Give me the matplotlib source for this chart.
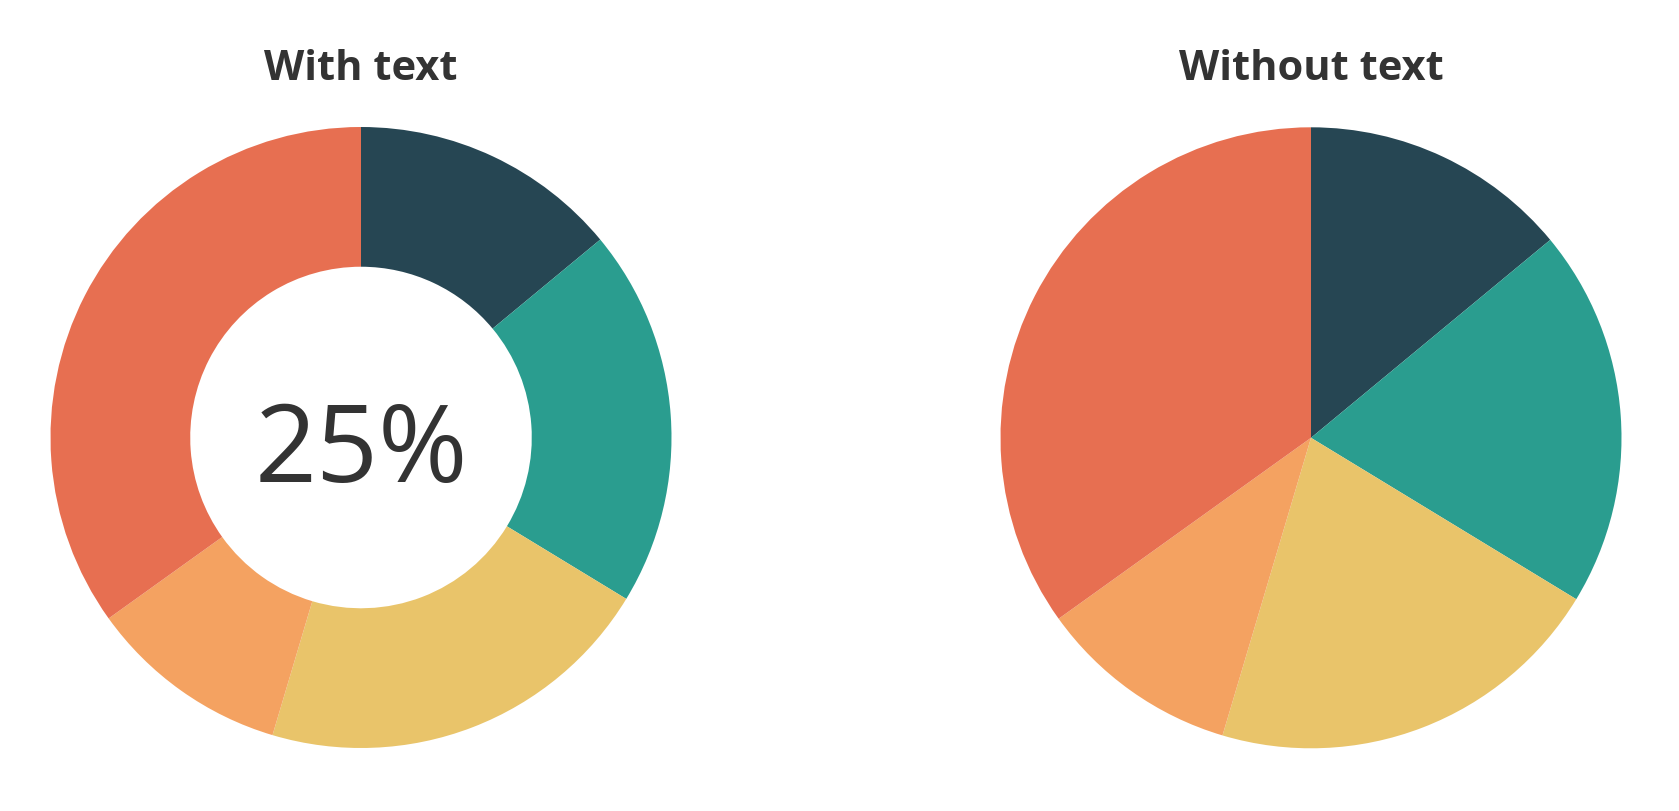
import matplotlib
matplotlib.use("Agg")
import matplotlib.pyplot as plt

# slice data (clockwise from 12 o'clock)
categories = ["A", "B", "C", "D", "E"]
values = [14, 19.7, 20.9, 10.5, 34.9]
colors = ["#264653", "#2a9d8f", "#e9c46a", "#f4a261", "#e76f51"]
titles = ["With text", "Without text"]
center_label = "25%"

W, H = 1679, 812
R = 310.5  # pie radius in pixels
centers = [(361, 438.5), (1311, 438.8)]

plt.rcParams["font.family"] = ["Open Sans", "DejaVu Sans"]
fig = plt.figure(figsize=(W / 100, H / 100), dpi=100)

for i, (cx, cy) in enumerate(centers):
    ax = fig.add_axes([(cx - R) / W, 1 - (cy + R) / H, 2 * R / W, 2 * R / H])
    wedgeprops = {"linewidth": 0}
    if i == 0:
        wedgeprops["width"] = 0.45
    ax.pie(values, colors=colors, startangle=90, counterclock=False,
           wedgeprops=wedgeprops, radius=1)
    ax.set_xlim(-1, 1)
    ax.set_ylim(-1, 1)
    ax.set_aspect("equal")
    ax.axis("off")
    fig.text(cx / W, 1 - 69 / H, titles[i], ha="center", va="center",
             fontsize=30, fontweight="bold", color="#333333")
    if i == 0:
        ax.text(0, -0.05, center_label, ha="center", va="center",
                fontsize=78, color="#333333")

fig.savefig("out.png", dpi=100)
